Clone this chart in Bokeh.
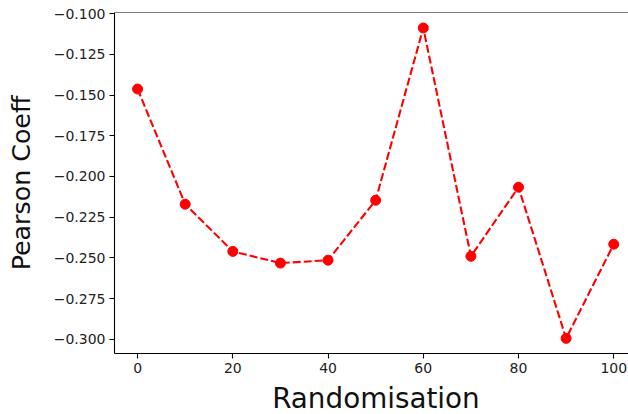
from bokeh.plotting import figure
from bokeh.models import FixedTicker, CustomJSTickFormatter, Range1d, Span
from bokeh.embed import file_html
from bokeh.resources import INLINE

randomisation = [0, 10, 20, 30, 40, 50, 60, 70, 80, 90, 100]
pearson = [-0.1463, -0.2170, -0.2460, -0.2532, -0.2514, -0.2146, -0.1088,
           -0.2490, -0.2066, -0.2994, -0.2416]
x_ticks = [0, 20, 40, 60, 80, 100]
y_ticks = [-0.300, -0.275, -0.250, -0.225, -0.200, -0.175, -0.150, -0.125, -0.100]

FONT = "DejaVu Sans"

p = figure(frame_width=514, frame_height=341, width=628, height=414,
           output_backend="svg", toolbar_location=None,
           x_range=Range1d(-4.85, 103.1), y_range=Range1d(-0.3087, -0.0993),
           min_border_left=114, min_border_right=0, min_border_top=12,
           min_border_bottom=61)
p.background_fill_color = "white"
p.border_fill_color = "white"
p.outline_line_color = None
p.xgrid.visible = False
p.ygrid.visible = False

p.line(randomisation, pearson, line_color="#ff0000", line_width=2.1, line_dash="8 3")
p.scatter(randomisation, pearson, size=10, fill_color="#ff0000", line_color="#ff0000")

p.add_layout(Span(location=-0.0993, dimension="width", line_color="black", line_width=1.1))

for ax in (p.xaxis[0], p.yaxis[0]):
    ax.axis_line_color = "black"
    ax.axis_line_width = 1.1
    ax.major_tick_line_color = "black"
    ax.major_tick_line_width = 1.1
    ax.major_tick_out = 5
    ax.major_tick_in = 0
    ax.minor_tick_line_color = None
    ax.major_label_text_font = FONT
    ax.major_label_text_font_size = "14px"
    ax.major_label_text_color = "#222222"
    ax.axis_label_text_font = FONT
    ax.axis_label_text_font_style = "normal"
    ax.axis_label_text_color = "#111111"

p.xaxis.axis_label_text_font_size = "27.8px"
p.yaxis.axis_label_text_font_size = "25.3px"
p.xaxis.ticker = FixedTicker(ticks=x_ticks)
p.yaxis.ticker = FixedTicker(ticks=y_ticks)
p.yaxis.formatter = CustomJSTickFormatter(
    code="return (tick < 0 ? '\u2212' : '') + Math.abs(tick).toFixed(3);")
p.xaxis.major_label_standoff = 4
p.yaxis.major_label_standoff = 4
p.xaxis.axis_label = "\u00a0Randomisation"
p.yaxis.axis_label = "Pearson Coeff"
p.xaxis.axis_label_standoff = 6
p.yaxis.axis_label_standoff = 15

open("out.html", "w").write(file_html(p, INLINE))
